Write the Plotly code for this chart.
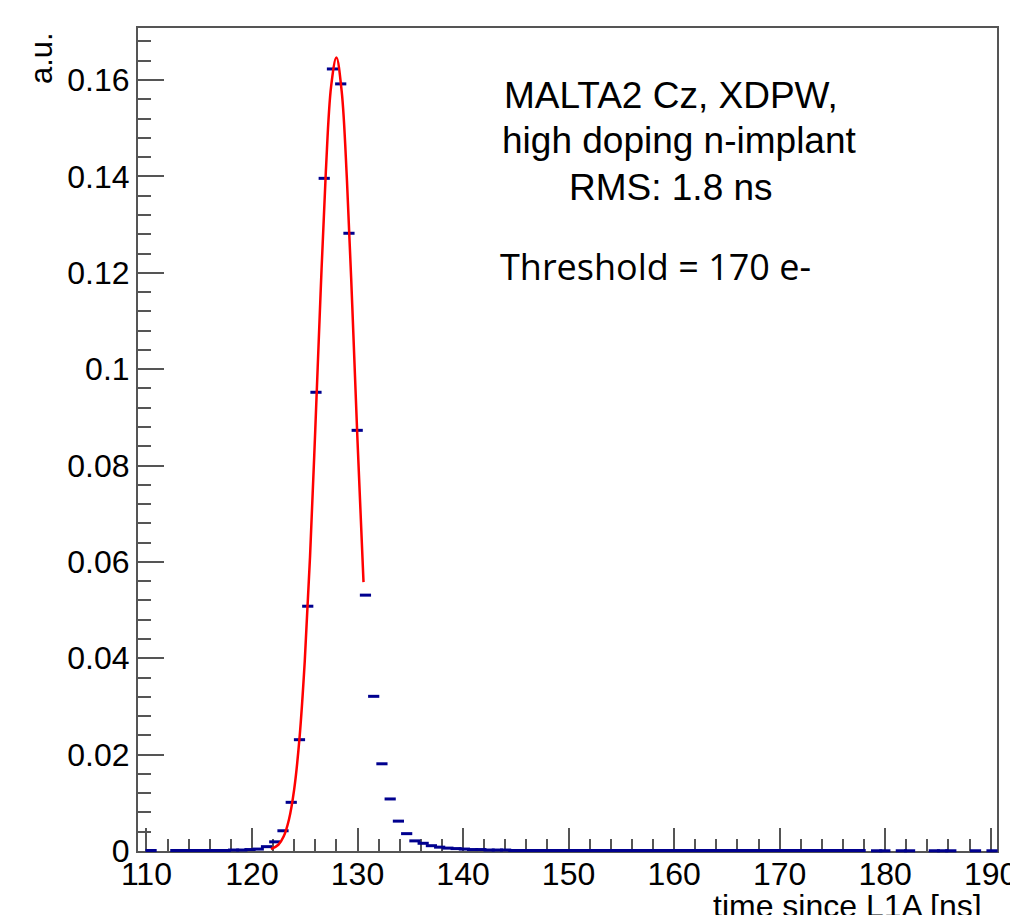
import plotly.graph_objects as go

# ---------------- data ----------------
HIST_LOW = 110.05          # lower edge of first bin [ns]
BIN_WIDTH = 0.78125        # bin width [ns]
# bin contents (a.u.), None = empty bin (not drawn)
counts = [
    0.0001, None, None,
    0.0001, 0.0001, 0.0001, 0.0001, 0.0001, 0.0001, 0.0001,
    0.0002, 0.0002, 0.0003, 0.0004, 0.0009, 0.0019, 0.0042, 0.0101,
    0.0231, 0.0508, 0.0952, 0.1396, 0.1623, 0.1592, 0.1282, 0.0873,
    0.0531, 0.0321, 0.0181, 0.0108, 0.0062, 0.0036, 0.0021, 0.0016,
    0.0011, 0.0008, 0.0006, 0.0005, 0.0004, 0.0003, 0.0003, 0.0002,
    0.0002, 0.0002,
    0.0001, 0.0001, 0.0001, 0.0001, 0.0001, 0.0001, 0.0001, 0.0001,
    0.0001, 0.0001, 0.0001, 0.0001, 0.0001, 0.0001, 0.0001, 0.0001,
    0.0001, 0.0001, 0.0001, 0.0001, 0.0001, 0.0001, 0.0001, 0.0001,
    0.0001, 0.0001, 0.0001, 0.0001, 0.0001, 0.0001, 0.0001, 0.0001,
    0.0001, 0.0001, 0.0001, 0.0001, 0.0001, 0.0001, 0.0001, 0.0001,
    0.0001, 0.0001, 0.0001,
    None, 0.00005, 0.00005, None, 0.00005, 0.00005, None, None,
    0.00005, 0.00005, 0.00005, None, None, 0.00005, None, 0.00005,
]

# fitted curve
fit_t = [121.8, 122.5, 123.0, 123.5, 124.0, 124.5, 125.0, 125.5, 126.0,
         126.5, 127.0, 127.5, 128.0, 128.5, 129.0, 129.5, 130.0, 130.57]
fit_y = [0.0004, 0.0013, 0.0030, 0.0065, 0.0128, 0.0233, 0.0393, 0.0610,
         0.0875, 0.1156, 0.1410, 0.1587, 0.1647, 0.1577, 0.1392, 0.1134,
         0.0852, 0.0558]

x_ticks = [110, 120, 130, 140, 150, 160, 170, 180, 190]
y_ticks = [0, 0.02, 0.04, 0.06, 0.08, 0.1, 0.12, 0.14, 0.16]

# ---------------- figure ----------------
centers = [HIST_LOW + BIN_WIDTH * (i + 0.5) for i in range(len(counts))]
px_ = [c for c, v in zip(centers, counts) if v is not None]
py_ = [v for v in counts if v is not None]

# page body has an 8px margin, so the figure is drawn 8px right/down
W, H = 1010, 907
L, R, T, B = 130, 21, 20, 64
pw, ph = W - L - R, H - T - B
PL, PB = 138, 851   # plot-area left / bottom in screenshot pixels


def xp(px):
    return (px - PL) / pw


def yp(py):
    return (PB - py) / ph


NAVY = "#00008f"
FRAME = "#555555"

fig = go.Figure()
fig.add_trace(go.Scatter(
    x=px_, y=py_, mode="markers",
    marker=dict(symbol="line-ew", size=8, line=dict(width=3, color=NAVY)),
    cliponaxis=False, showlegend=False,
))
fig.add_trace(go.Scatter(
    x=fit_t, y=fit_y, mode="lines", line=dict(color="#ff0000", width=2.5, shape="spline"),
    showlegend=False,
))

axis_common = dict(
    showgrid=False, zeroline=False, showline=True, mirror=True,
    linecolor=FRAME, linewidth=2, ticks="inside", tickcolor=FRAME,
    tickwidth=1.5, layer="below traces",
)
fig.update_xaxes(
    range=[109.2, 190.6], tickvals=x_ticks, ticklen=23, ticklabelstandoff=-6,
    tickfont=dict(family="Liberation Sans", size=32, color="black"),
    minor=dict(dtick=2, tick0=110, ticklen=12, ticks="inside", tickcolor=FRAME, tickwidth=1.5),
    automargin=False,
    **axis_common,
)
fig.update_yaxes(
    range=[0, 0.1708], tickvals=y_ticks, ticklen=26,
    tickfont=dict(family="Liberation Sans", size=32, color="black"),
    minor=dict(dtick=0.004, tick0=0, ticklen=13, ticks="inside", tickcolor=FRAME, tickwidth=1.5),
    automargin=False,
    **axis_common,
)

ann_font = dict(family="Liberation Sans", size=37, color="black")
annotations = [
    dict(text="MALTA2 Cz, XDPW,", x=xp(670.5), y=yp(95.5), font=ann_font),
    dict(text="high doping n-implant", x=xp(679), y=yp(140.5), font=ann_font),
    dict(text="RMS: 1.8 ns", x=xp(670.5), y=yp(187.5), font=ann_font),
    dict(text="Threshold = 170 e-", x=xp(655), y=yp(266),
         font=dict(family="Open Sans", size=36, color="black")),
    dict(text="a.u.", x=xp(42), y=yp(30), textangle=-90, yanchor="top",
         font=dict(family="Liberation Sans", size=31, color="black")),
    dict(text="time since L1A [ns]", x=xp(984), y=yp(906), xanchor="right",
         font=dict(family="Liberation Sans", size=32, color="black")),
]
for a in annotations:
    a.setdefault("xanchor", "center")
    a.setdefault("yanchor", "middle")
    fig.add_annotation(xref="paper", yref="paper", showarrow=False, **a)

fig.update_layout(
    width=W, height=H,
    margin=dict(l=L, r=R, t=T, b=B, pad=0),
    plot_bgcolor="white", paper_bgcolor="white",
)

fig.write_html("out.html")
